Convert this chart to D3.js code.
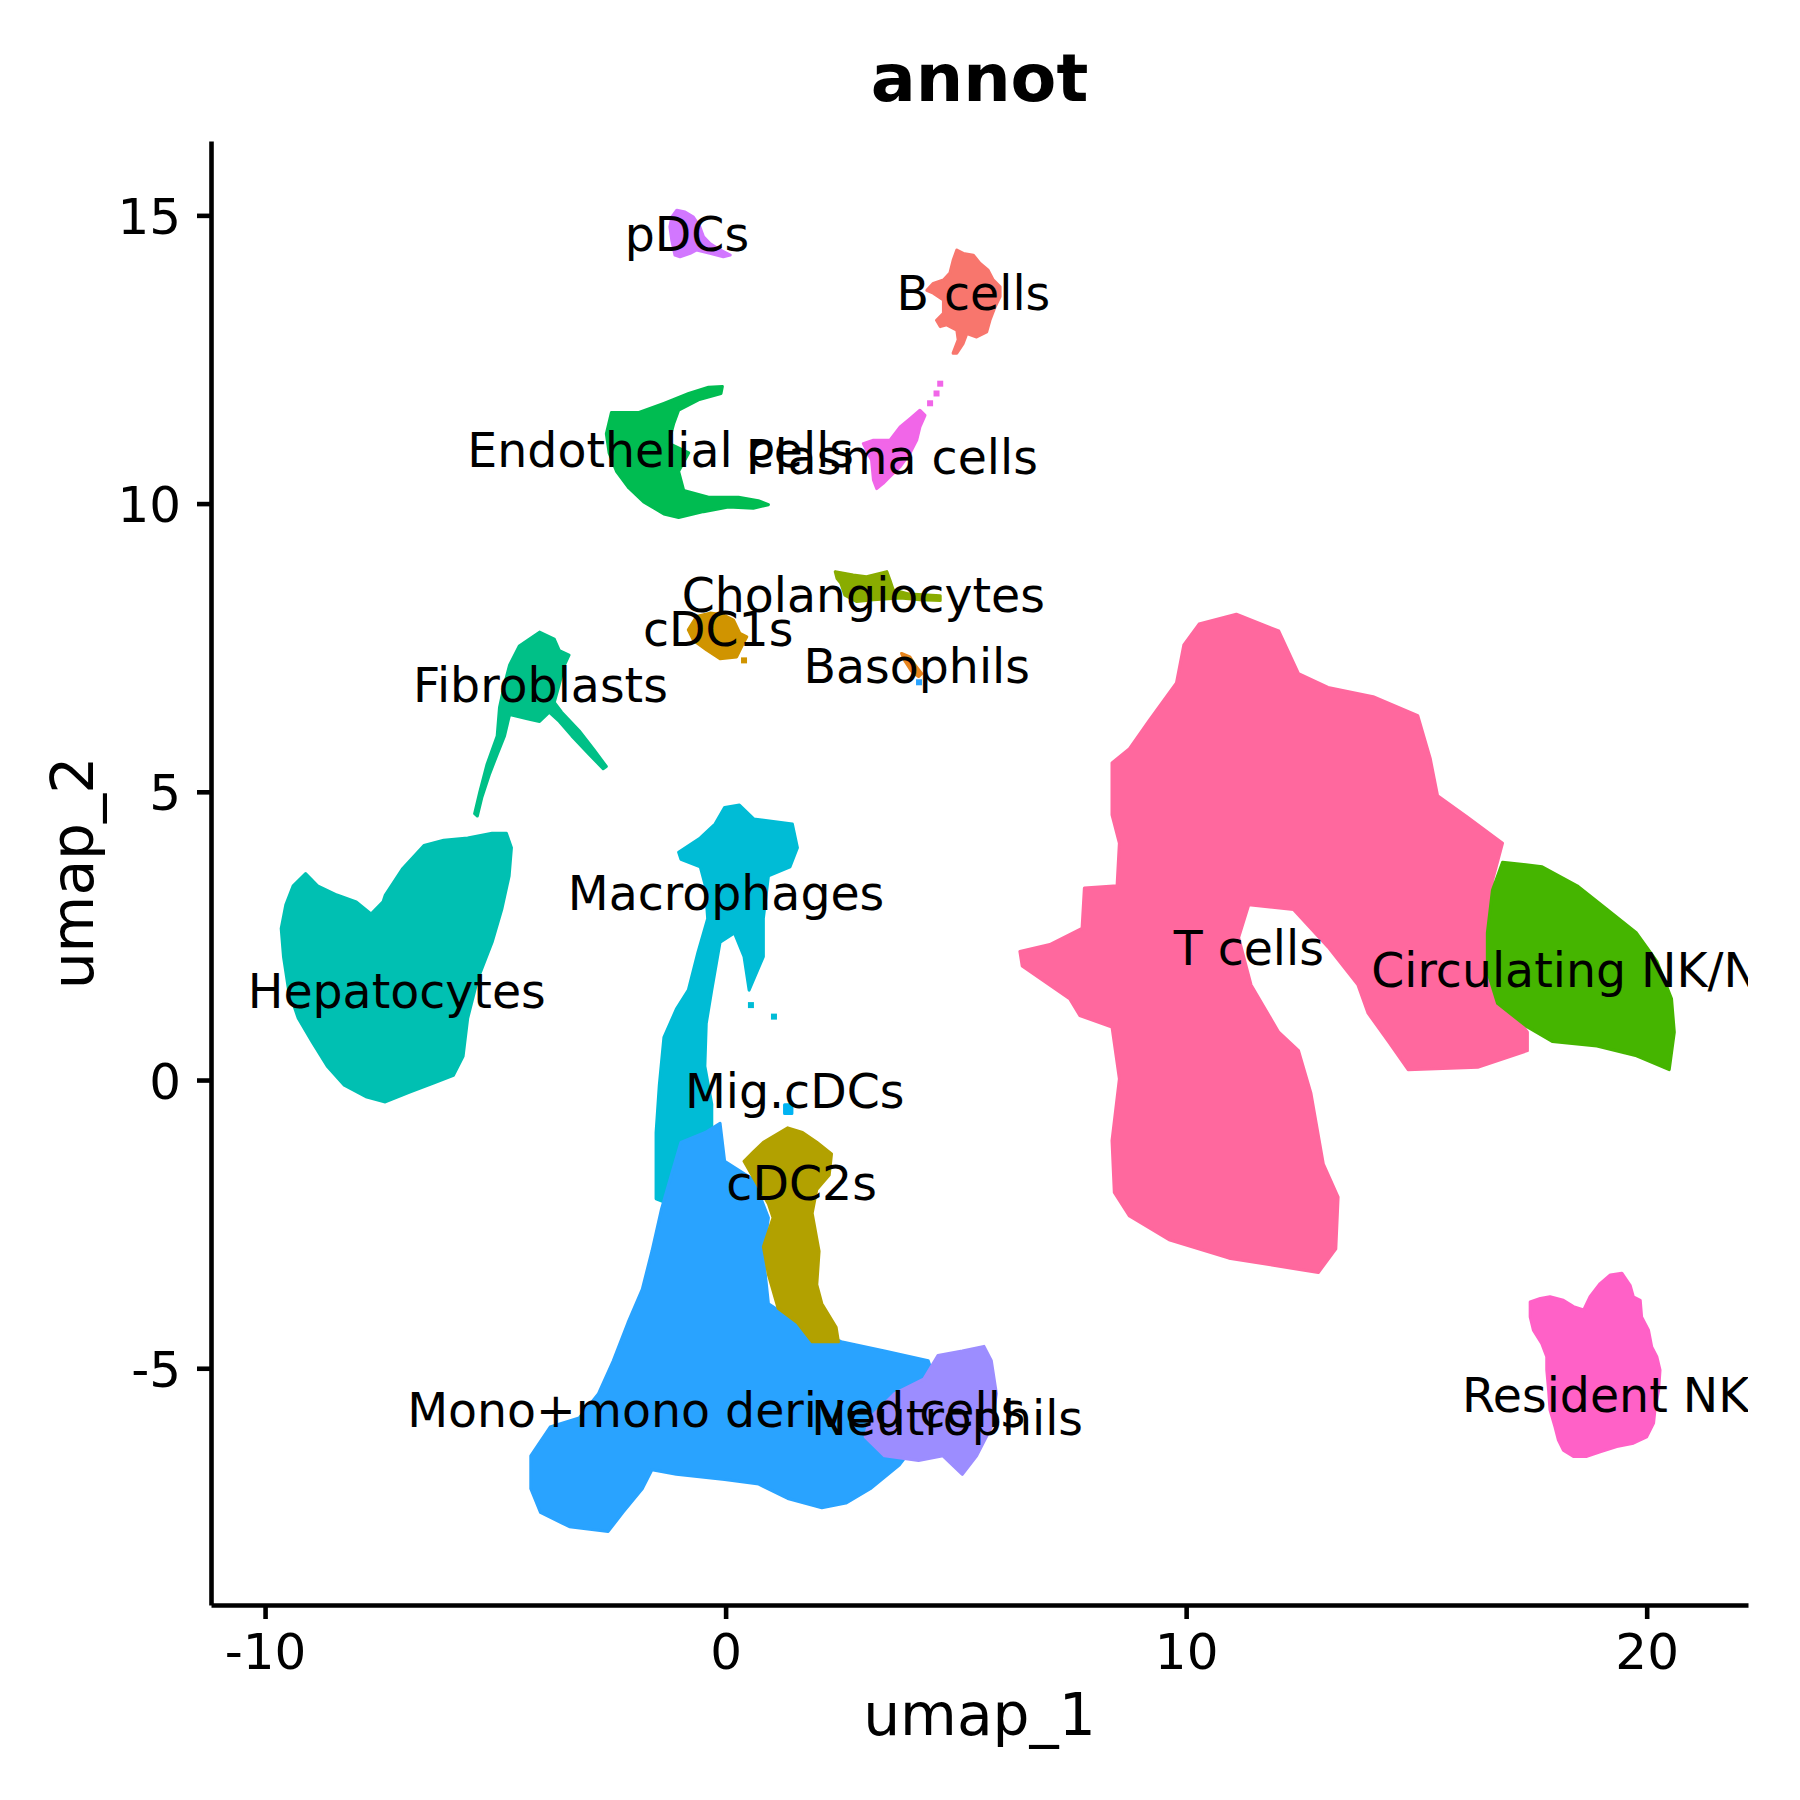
<!DOCTYPE html>
<html>
<head>
<meta charset="utf-8">
<script src="https://cdn.jsdelivr.net/npm/d3@7"></script>
<style>
  body { margin: 0; background: #fff; }
  text { font-family: "DejaVu Sans", sans-serif; }
</style>
</head>
<body>
<div id="chart"></div>
<script>
// cluster names in factor order (this order sets the hue of each one)
const clusters = ['B cells', 'Basophils', 'cDC1s', 'cDC2s', 'Cholangiocytes', 'Circulating NK/NKT',
  'Endothelial cells', 'Fibroblasts', 'Hepatocytes', 'Macrophages', 'Mig.cDCs',
  'Mono+mono derived cells', 'Neutrophils', 'pDCs', 'Plasma cells', 'Resident NK', 'T cells']

// label anchor for each cluster, umap units
const labelX = [5.38, 4.15, -0.16, 1.65, 2.99, 18.84, -1.41, -4.02, -7.14, 0.01, 1.50, -0.20, 4.81, -0.84, 3.61, 19.11, 11.36]
const labelY = [13.64, 7.18, 7.81, -1.80, 8.41, 1.90, 10.93, 6.85, 1.54, 3.23, -0.19, -5.73, -5.87, 14.67, 10.80, -5.47, 2.28]

// outlines of the point clouds [umap_1, umap_2]
const bCells = [[5.02,14.40],[5.16,14.34],[5.38,14.31],[5.52,14.17],[5.70,14.05],[5.81,13.88],[5.96,13.76],[5.96,13.59],
  [5.85,13.41],[5.74,13.18],[5.67,12.98],[5.45,12.89],[5.24,12.95],[5.16,12.78],[5.02,12.61],[4.94,12.61],[5.05,12.84],
  [5.02,13.01],[4.80,13.10],[4.66,13.07],[4.58,13.18],[4.73,13.30],[4.73,13.53],[4.51,13.65],[4.37,13.70],[4.51,13.82],
  [4.73,13.88],[4.87,14.00],[4.94,14.22]]
const basophils = [[3.82,7.40],[4.00,7.34],[4.11,7.20],[4.26,7.05],[4.19,7.00],[4.04,7.09],[3.90,7.26]]
const cDC1s = [[-0.63,8.04],[-0.34,8.10],[-0.05,8.07],[0.17,7.98],[0.31,7.75],[0.46,7.69],[0.38,7.57],[0.24,7.34],
  [-0.12,7.31],[-0.41,7.46],[-0.70,7.63],[-0.81,7.81]]
const cDC2s = [[0.82,-1.08],[1.35,-0.83],[1.67,-0.91],[1.98,-1.08],[2.30,-1.28],[2.25,-1.65],[1.98,-1.90],[1.88,-2.31],
  [2.03,-2.97],[1.98,-3.55],[2.09,-3.88],[2.40,-4.29],[2.45,-4.54],[1.88,-4.54],[1.56,-4.21],[1.14,-3.96],[0.93,-3.38],
  [0.82,-2.89],[1.03,-2.39],[0.93,-2.15],[0.40,-1.41],[0.61,-1.24]]
const cholangiocytes = [[2.38,8.82],[2.77,8.76],[3.06,8.73],[3.50,8.82],[3.57,8.67],[3.64,8.50],[4.00,8.43],[4.66,8.40],
  [4.66,8.32],[4.22,8.33],[3.79,8.36],[3.21,8.33],[2.85,8.30],[2.59,8.41],[2.50,8.62],[2.42,8.70]]
const circulatingNK = [[16.87,3.78],[17.73,3.70],[18.49,3.37],[19.14,2.96],[19.78,2.55],[20.22,2.06],[20.54,1.41],
  [20.60,0.83],[20.49,0.18],[19.78,0.42],[18.92,0.59],[17.95,0.67],[17.41,0.92],[16.76,1.33],[16.54,1.90],[16.54,2.55],[16.65,3.29]]
const endothelial = [[-2.48,11.58],[-1.88,11.58],[-1.34,11.74],[-0.80,11.91],[-0.37,12.02],[-0.07,12.03],[-0.10,11.91],
  [-0.59,11.80],[-1.02,11.62],[-1.13,11.38],[-1.24,11.05],[-0.80,10.88],[-1.02,10.56],[-0.91,10.23],[-0.37,10.11],
  [0.28,10.11],[0.71,10.05],[0.93,9.98],[0.60,9.92],[0.06,9.94],[-0.48,9.86],[-1.02,9.76],[-1.34,9.82],[-1.78,10.03],
  [-2.10,10.27],[-2.37,10.56],[-2.53,10.88],[-2.59,11.21]]
const fibroblasts = [[-4.04,7.77],[-3.72,7.65],[-3.61,7.45],[-3.40,7.37],[-3.50,7.20],[-3.61,6.87],[-3.72,6.55],[-3.56,6.38],
  [-3.18,6.06],[-2.86,5.73],[-2.59,5.44],[-2.66,5.40],[-2.96,5.65],[-3.34,5.97],[-3.61,6.22],[-3.83,6.38],[-4.04,6.22],
  [-4.26,6.26],[-4.69,6.34],[-4.80,5.97],[-4.96,5.65],[-5.12,5.32],[-5.29,4.91],[-5.39,4.58],[-5.45,4.62],[-5.34,4.99],
  [-5.18,5.48],[-4.96,5.97],[-4.91,6.46],[-4.80,6.87],[-4.69,7.20],[-4.48,7.53]]
const hepatocytes = [[-9.12,3.58],[-8.86,3.37],[-8.44,3.21],[-8.02,3.09],[-7.70,2.88],[-7.44,3.09],[-7.39,3.21],[-7.02,3.66],
  [-6.55,4.07],[-6.12,4.16],[-5.60,4.20],[-5.07,4.28],[-4.76,4.28],[-4.65,4.03],[-4.70,3.54],[-4.86,2.96],[-5.07,2.39],
  [-5.39,1.73],[-5.60,1.07],[-5.70,0.41],[-5.91,0.08],[-6.33,-0.05],[-6.86,-0.21],[-7.39,-0.38],[-7.81,-0.29],[-8.28,-0.09],
  [-8.65,0.24],[-8.97,0.65],[-9.28,1.07],[-9.49,1.56],[-9.60,2.14],[-9.65,2.63],[-9.55,3.04],[-9.39,3.37]]
const macrophages = [[-0.02,4.73],[0.30,4.77],[0.61,4.53],[1.45,4.44],[1.56,4.03],[1.40,3.70],[0.93,3.54],[0.82,2.80],
  [0.82,2.14],[0.51,1.56],[0.40,2.14],[0.19,2.55],[-0.12,2.39],[-0.30,1.56],[-0.42,0.98],[-0.45,0.24],[-0.30,-0.42],
  [-0.30,-0.83],[-0.75,-1.08],[-1.12,-1.49],[-1.23,-2.15],[-1.51,-2.06],[-1.51,-0.91],[-1.44,-0.09],[-1.34,0.74],
  [-1.07,1.23],[-0.81,1.56],[-0.60,2.22],[-0.39,2.80],[-0.44,3.37],[-0.55,3.70],[-0.97,3.83],[-1.02,3.95],[-0.55,4.20],[-0.23,4.44]]
const migCDCs = [[1.28,-0.43],[1.44,-0.43],[1.44,-0.58],[1.28,-0.58]]
const mono = [[-0.97,-1.08],[-0.44,-0.91],[-0.12,-0.75],[-0.02,-1.41],[0.61,-1.73],[0.93,-2.39],[0.82,-3.05],[0.93,-3.88],
  [1.56,-4.21],[2.51,-4.54],[3.45,-4.70],[4.40,-4.87],[4.61,-5.36],[4.40,-6.02],[3.77,-6.68],[3.14,-7.09],[2.61,-7.34],
  [2.09,-7.42],[1.35,-7.26],[0.72,-7.01],[-0.02,-6.93],[-1.07,-6.84],[-1.60,-6.76],[-1.81,-7.09],[-2.23,-7.50],[-2.55,-7.83],
  [-3.39,-7.75],[-4.02,-7.50],[-4.23,-7.09],[-4.23,-6.52],[-3.81,-6.02],[-3.18,-5.86],[-2.76,-5.44],[-2.44,-4.87],
  [-2.12,-4.21],[-1.81,-3.63],[-1.60,-2.97],[-1.39,-2.23],[-1.18,-1.65]]
const neutrophils = [[4.61,-4.78],[5.14,-4.70],[5.61,-4.62],[5.77,-4.87],[5.88,-5.44],[5.77,-6.02],[5.45,-6.52],[5.14,-6.84],
  [4.93,-6.68],[4.72,-6.52],[4.19,-6.60],[3.45,-6.52],[3.03,-6.19],[3.14,-5.86],[3.67,-5.44],[4.30,-5.19]]
const pDCs = [[-1.06,15.09],[-0.88,15.06],[-0.70,14.97],[-0.56,14.80],[-0.48,14.63],[-0.34,14.51],[-0.12,14.40],[0.10,14.31],
  [-0.05,14.28],[-0.34,14.34],[-0.63,14.40],[-0.77,14.34],[-0.99,14.28],[-1.10,14.31],[-1.17,14.57],[-1.21,14.80],[-1.17,14.97]]
const plasma = [[4.22,11.62],[4.33,11.53],[4.22,11.33],[4.15,11.10],[4.00,10.87],[3.79,10.64],[3.57,10.47],[3.42,10.35],
  [3.28,10.26],[3.21,10.41],[3.17,10.75],[2.99,11.04],[3.21,11.10],[3.57,11.10],[3.79,11.33],[4.00,11.47]]
const residentNK = [[17.47,-3.85],[17.69,-3.79],[17.90,-3.76],[18.19,-3.82],[18.41,-3.93],[18.63,-3.99],[18.77,-3.76],
  [18.99,-3.53],[19.21,-3.38],[19.46,-3.35],[19.64,-3.56],[19.71,-3.76],[19.86,-3.82],[19.89,-4.11],[20.04,-4.34],
  [20.11,-4.63],[20.22,-4.80],[20.29,-5.03],[20.26,-5.38],[20.18,-5.72],[20.15,-5.95],[20.00,-6.19],[19.71,-6.30],
  [19.35,-6.36],[18.99,-6.45],[18.70,-6.53],[18.41,-6.53],[18.19,-6.42],[18.08,-6.24],[18.01,-6.02],[17.90,-5.72],
  [17.87,-5.38],[17.83,-5.03],[17.83,-4.80],[17.72,-4.57],[17.54,-4.34],[17.47,-4.11]]
const tCells = [[11.09,8.08],[12.01,7.79],[12.44,7.05],[13.08,6.81],[14.06,6.65],[15.03,6.32],[15.30,5.58],[15.46,4.93],
  [16.11,4.56],[16.87,4.11],[16.65,3.45],[16.65,1.65],[17.41,0.83],[17.41,0.51],[16.33,0.22],[14.82,0.18],[14.39,0.67],
  [13.95,1.16],[13.73,1.65],[13.08,2.31],[12.33,2.96],[11.36,3.04],[11.14,2.47],[11.41,1.65],[12.01,0.83],[12.44,0.51],
  [12.71,-0.23],[12.98,-1.46],[13.30,-2.03],[13.25,-2.93],[12.87,-3.34],[10.93,-3.09],[9.63,-2.77],[8.77,-2.36],
  [8.44,-1.95],[8.39,-1.05],[8.55,0.02],[8.39,0.92],[7.69,1.12],[7.47,1.41],[6.44,1.98],[6.39,2.23],[7.04,2.35],
  [7.74,2.63],[7.79,3.33],[8.50,3.37],[8.55,4.11],[8.39,4.60],[8.39,5.50],[8.77,5.75],[9.20,6.24],[9.79,6.89],[9.95,7.55],[10.28,7.91]]

const outlines = {
  'B cells': bCells, 'Basophils': basophils, 'cDC1s': cDC1s, 'cDC2s': cDC2s, 'Cholangiocytes': cholangiocytes,
  'Circulating NK/NKT': circulatingNK, 'Endothelial cells': endothelial, 'Fibroblasts': fibroblasts,
  'Hepatocytes': hepatocytes, 'Macrophages': macrophages, 'Mig.cDCs': migCDCs, 'Mono+mono derived cells': mono,
  'Neutrophils': neutrophils, 'pDCs': pDCs, 'Plasma cells': plasma, 'Resident NK': residentNK, 'T cells': tCells
}

// a few lone cells outside the clouds [umap_1, umap_2, cluster]
const strayCells = [[4.66,12.08,'Plasma cells'],[4.58,11.91,'Plasma cells'],[4.44,11.74,'Plasma cells'],
  [0.40,7.28,'cDC1s'],[1.05,1.10,'Macrophages'],[0.55,1.30,'Macrophages'],[-1.28,11.10,'Endothelial cells'],
  [-1.10,10.62,'Endothelial cells'],[4.20,6.90,'Mono+mono derived cells']]

// order the clouds are painted in
const drawOrder = ['Hepatocytes', 'Fibroblasts', 'Endothelial cells', 'Macrophages', 'Mono+mono derived cells', 'cDC2s',
  'Neutrophils', 'T cells', 'Circulating NK/NKT', 'Resident NK', 'B cells', 'Plasma cells', 'pDCs', 'cDC1s',
  'Cholangiocytes', 'Basophils', 'Mig.cDCs']

const xTicks = [-10, 0, 10, 20]
const yTicks = [-5, 0, 5, 10, 15]

// ggplot hue palette: hcl(h, c = 100, l = 65) in polar Luv
function hueColor(h) {
  const L = 65, C = 100
  const rad = h * Math.PI / 180
  const U = C * Math.cos(rad), V = C * Math.sin(rad)
  const Xn = 95.047, Yn = 100, Zn = 108.883
  const un = 4 * Xn / (Xn + 15 * Yn + 3 * Zn)
  const vn = 9 * Yn / (Xn + 15 * Yn + 3 * Zn)
  const Y = Yn * Math.pow((L + 16) / 116, 3)
  const u = U / (13 * L) + un
  const v = V / (13 * L) + vn
  const X = 9 * Y * u / (4 * v)
  const Z = -X / 3 - 5 * Y + 3 * Y / v
  const lin = [
    (3.240479 * X - 1.53715 * Y - 0.498535 * Z) / 100,
    (-0.969256 * X + 1.875992 * Y + 0.041556 * Z) / 100,
    (0.055648 * X - 0.204043 * Y + 1.057311 * Z) / 100
  ]
  const g = lin.map((c) => (c <= 0.0031308 ? 12.92 * c : 1.055 * Math.pow(c, 1 / 2.4) - 0.055))
  return d3.rgb(...g.map((c) => Math.round(255 * Math.max(0, Math.min(1, c))))).formatHex()
}

const width = 1800
const height = 1800
const panel = { left: 211, right: 1748, top: 141, bottom: 1605 }

const svg = d3.select('#chart')
  .append('svg')
  .attr('width', width)
  .attr('height', height)
  .style('background', '#fff')

const xScale = d3.scaleLinear().domain([-11.174, 22.2]).range([panel.left, panel.right])
const yScale = d3.scaleLinear().domain([-9.107, 16.29]).range([panel.bottom, panel.top])

const colorScale = d3.scaleOrdinal()
  .domain(clusters)
  .range(clusters.map((d, i) => hueColor(15 + i * 360 / clusters.length)))

svg.append('clipPath')
  .attr('id', 'panel-clip')
  .append('rect')
  .attr('x', panel.left)
  .attr('y', panel.top)
  .attr('width', panel.right - panel.left)
  .attr('height', panel.bottom - panel.top)

const line = d3.line()
  .x((d) => xScale(d[0]))
  .y((d) => yScale(d[1]))
  .curve(d3.curveLinearClosed)

const plot = svg.append('g').attr('clip-path', 'url(#panel-clip)')

plot.selectAll('path.cloud')
  .data(drawOrder)
  .join('path')
  .attr('class', 'cloud')
  .attr('d', (d) => line(outlines[d]))
  .attr('fill', (d) => colorScale(d))
  .attr('stroke', (d) => colorScale(d))
  .attr('stroke-width', 3)
  .attr('stroke-linejoin', 'round')

plot.selectAll('rect.stray')
  .data(strayCells)
  .join('rect')
  .attr('class', 'stray')
  .attr('x', (d) => xScale(d[0]) - 3)
  .attr('y', (d) => yScale(d[1]) - 3)
  .attr('width', 6)
  .attr('height', 6)
  .attr('fill', (d) => colorScale(d[2]))

plot.selectAll('text.label')
  .data(clusters)
  .join('text')
  .attr('class', 'label')
  .attr('x', (d, i) => xScale(labelX[i]))
  .attr('y', (d, i) => yScale(labelY[i]))
  .attr('dy', '0.35em')
  .attr('text-anchor', 'middle')
  .attr('font-size', 47.4)
  .attr('fill', '#000')
  .text((d) => d)

// axes
const xAxis = d3.axisBottom(xScale)
  .tickValues(xTicks)
  .tickFormat((d) => String(d))
  .tickSize(14)
  .tickSizeOuter(0)
  .tickPadding(14.5)

const yAxis = d3.axisLeft(yScale)
  .tickValues(yTicks)
  .tickFormat((d) => String(d))
  .tickSize(14)
  .tickSizeOuter(0)
  .tickPadding(16)

const gx = svg.append('g')
  .attr('transform', `translate(0, ${panel.bottom})`)
  .call(xAxis)

const gy = svg.append('g')
  .attr('transform', `translate(${panel.left}, 0)`)
  .call(yAxis)

for (const g of [gx, gy]) {
  g.select('.domain').attr('stroke', '#000').attr('stroke-width', 4.6)
  g.selectAll('.tick line').attr('stroke', '#000').attr('stroke-width', 4.6)
  g.selectAll('.tick text')
    .attr('fill', '#000')
    .attr('font-size', 50)
    .attr('font-family', '"DejaVu Sans", sans-serif')
}
gy.selectAll('.tick text').attr('dy', '0.36em')

svg.append('text')
  .attr('x', (panel.left + panel.right) / 2)
  .attr('y', 1735)
  .attr('text-anchor', 'middle')
  .attr('font-size', 58.3)
  .text('umap_1')

svg.append('text')
  .attr('transform', `translate(93, ${(panel.top + panel.bottom) / 2}) rotate(-90)`)
  .attr('text-anchor', 'middle')
  .attr('font-size', 58.3)
  .text('umap_2')

svg.append('text')
  .attr('x', (panel.left + panel.right) / 2)
  .attr('y', 100.7)
  .attr('text-anchor', 'middle')
  .attr('font-size', 66.7)
  .attr('font-weight', 'bold')
  .text('annot')
</script>
</body>
</html>
